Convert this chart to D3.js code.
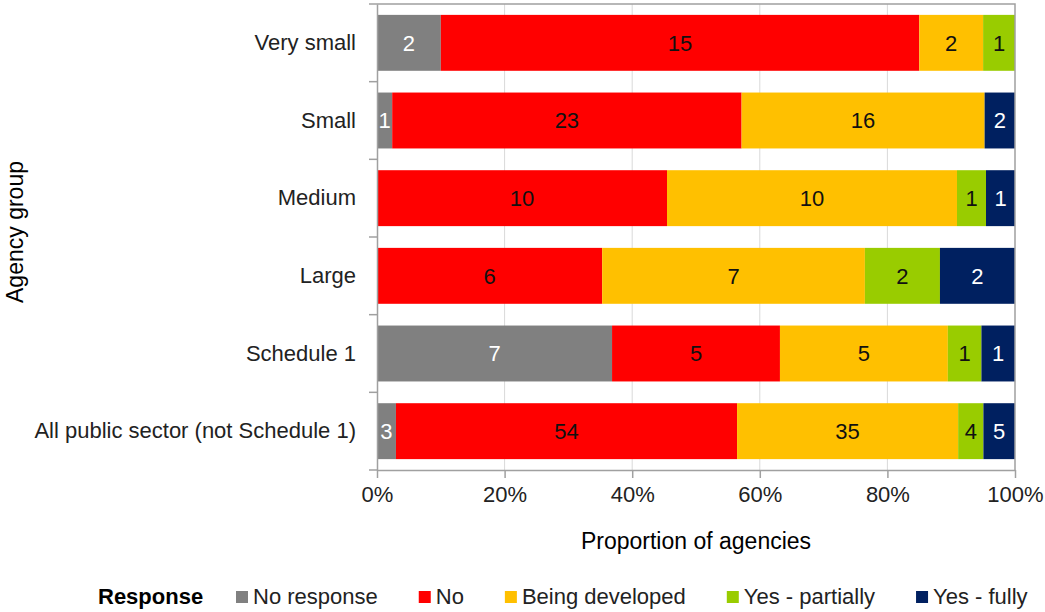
<!DOCTYPE html>
<html><head><meta charset="utf-8">
<script src="https://cdn.jsdelivr.net/npm/d3@7"></script>
<style>
html,body{margin:0;padding:0;background:#fff;}
svg text{font-family:"Liberation Sans",Arial,Helvetica,sans-serif;}
</style></head>
<body><svg id="c" width="1045" height="612"></svg>
<script>
const categories = ["Very small","Small","Medium","Large","Schedule 1","All public sector (not Schedule 1)"];
const seriesNames = ["No response","No","Being developed","Yes - partially","Yes - fully"];
const noResponse = [2,1,0,0,7,3];
const no = [15,23,10,6,5,54];
const beingDeveloped = [2,16,10,7,5,35];
const yesPartially = [1,0,1,2,1,4];
const yesFully = [0,2,1,2,1,5];
const xTicks = [0,0.2,0.4,0.6,0.8,1];
const colors = ["#808080","#ff0000","#ffc000","#99cc00","#002060"];
const labelColors = ["#ffffff","#111111","#111111","#111111","#ffffff"];

const seriesVals = [noResponse,no,beingDeveloped,yesPartially,yesFully];
const rows = categories.map((c,i)=>{
  const o = {cat:c};
  seriesNames.forEach((s,j)=>o[s]=seriesVals[j][i]);
  return o;
});

const svg = d3.select("#c");
const L=377,R=1015,T=4,B=470;
const x = d3.scaleLinear().domain([0,1]).range([L,R]);
const y = d3.scaleBand().domain(categories).range([T,B]).paddingInner(0.28).paddingOuter(0.14);

const stack = d3.stack().keys(seriesNames).offset(d3.stackOffsetExpand);
const stacked = stack(rows);

// gridlines
svg.append("g").selectAll("line").data(xTicks.slice(1,-1)).join("line")
  .attr("x1",d=>x(d)).attr("x2",d=>x(d)).attr("y1",T).attr("y2",B)
  .attr("stroke","#d9d9d9").attr("stroke-width",1);

// bars
const g = svg.append("g");
stacked.forEach((layer,j)=>{
  g.append("g").selectAll("rect").data(layer).join("rect")
    .attr("x",d=>x(d[0])).attr("width",d=>x(d[1])-x(d[0]))
    .attr("y",d=>y(d.data.cat)).attr("height",y.bandwidth())
    .attr("fill",colors[j]);
  g.append("g").selectAll("text").data(layer.filter(d=>d.data[seriesNames[j]]>0)).join("text")
    .attr("x",d=>(x(d[0])+x(d[1]))/2).attr("y",d=>y(d.data.cat)+y.bandwidth()/2)
    .attr("dy","0.36em").attr("text-anchor","middle")
    .attr("font-size",22).attr("fill",labelColors[j])
    .text(d=>d.data[seriesNames[j]]);
});

// frame (top/right)
svg.append("path").attr("d",`M${L},${T}H${R}V${B}`).attr("fill","none").attr("stroke","#a0a0a0").attr("stroke-width",1.5);

// x axis
const xa = svg.append("g").attr("transform",`translate(0,${B})`)
  .call(d3.axisBottom(x).tickValues(xTicks).tickFormat(d3.format(".0%")).tickSize(8).tickPadding(8).tickSizeOuter(0));
xa.select(".domain").attr("stroke","#a0a0a0").attr("stroke-width",1.5);
xa.selectAll(".tick line").attr("stroke","#a0a0a0").attr("stroke-width",1.5);
xa.selectAll(".tick text").attr("font-size",22).attr("fill","#222").attr("font-family",null);

// y axis labels
const ya = svg.append("g").attr("transform",`translate(${L},0)`)
  .call(d3.axisLeft(y).tickSize(0).tickPadding(21));
ya.select(".domain").attr("stroke","#a0a0a0").attr("stroke-width",1.5);
ya.selectAll(".tick text").attr("font-size",22).attr("fill","#222").attr("font-family",null);
// boundary ticks
const bounds = categories.map(c=>y(c)-y.step()*y.paddingInner()/2).concat([B]);
bounds[0]=T;
svg.append("g").selectAll("line").data(bounds).join("line")
  .attr("x1",L-8).attr("x2",L).attr("y1",d=>d).attr("y2",d=>d)
  .attr("stroke","#a0a0a0").attr("stroke-width",1.5);

// axis titles
svg.append("text").attr("x",(L+R)/2).attr("y",549).attr("text-anchor","middle")
  .attr("font-size",23).attr("fill","#000").text("Proportion of agencies");
svg.append("text").attr("transform","translate(23,232) rotate(-90)").attr("text-anchor","middle")
  .attr("font-size",23).attr("fill","#000").text("Agency group");

// legend
const leg = svg.append("g");
leg.append("text").attr("x",98).attr("y",604).attr("font-size",22).attr("font-weight","bold").attr("fill","#000").text("Response");
let lx = 236;
seriesNames.forEach((s,j)=>{
  leg.append("rect").attr("x",lx).attr("y",591).attr("width",12).attr("height",12).attr("fill",colors[j]);
  const t = leg.append("text").attr("x",lx+17).attr("y",604).attr("font-size",22).attr("fill","#222").text(s);
  lx = lx + 17 + t.node().getComputedTextLength() + 41;
});
</script></body></html>
